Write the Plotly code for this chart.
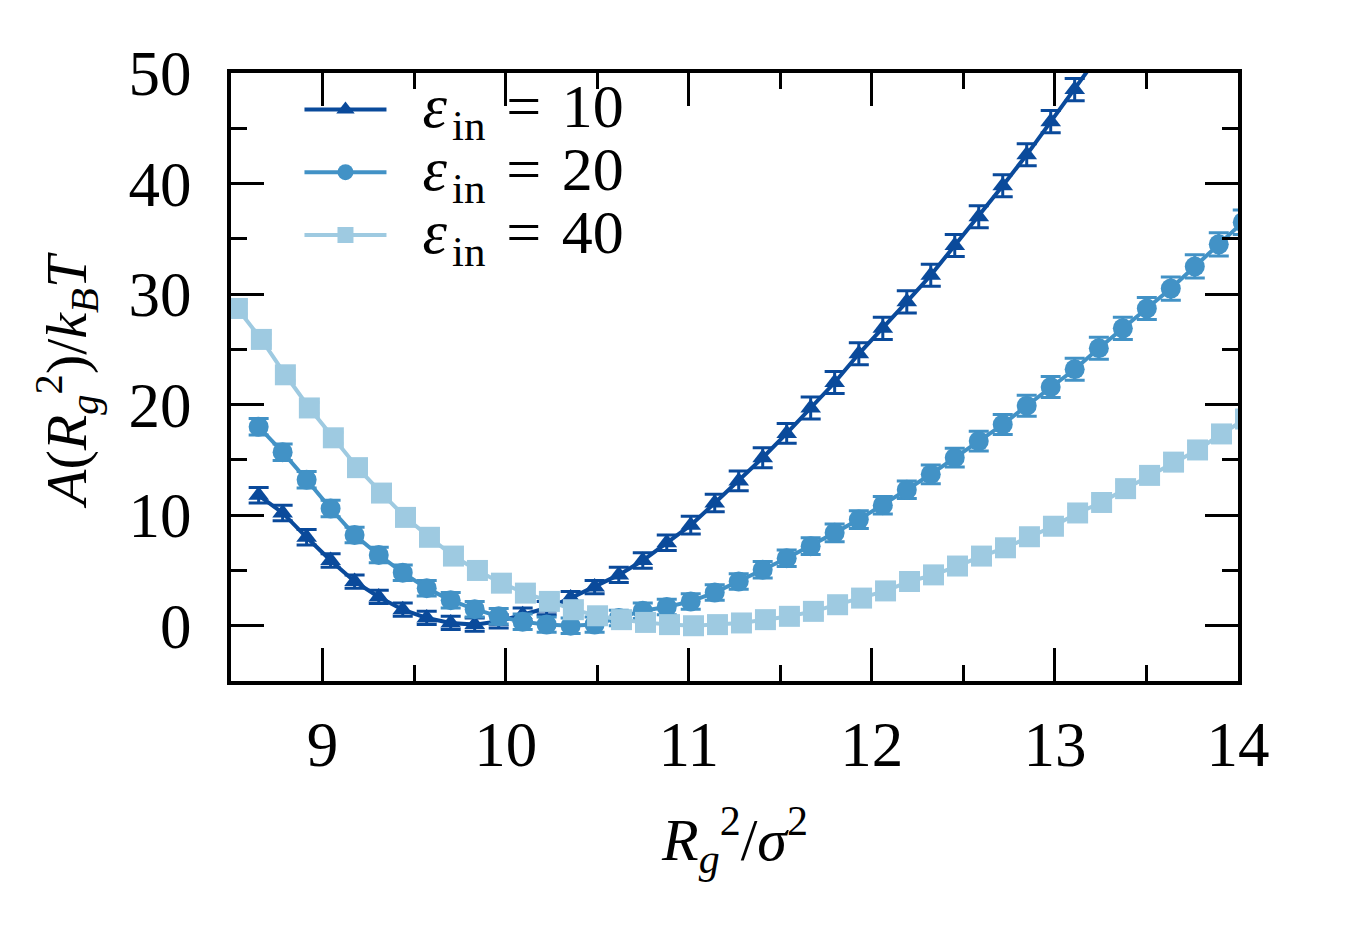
import plotly.graph_objects as go

# ---- data ----
x_tri = [8.651, 8.782, 8.913, 9.044, 9.175, 9.307, 9.438, 9.569, 9.700, 9.831,
         9.962, 10.093, 10.224, 10.355, 10.486, 10.618, 10.749, 10.880, 11.011, 11.142,
         11.273, 11.404, 11.535, 11.666, 11.797, 11.929, 12.060, 12.191, 12.322, 12.453,
         12.584, 12.715, 12.846, 12.977, 13.108, 13.240]
y_tri = [11.8, 10.2, 8.0, 5.9, 4.0, 2.6, 1.45, 0.7, 0.25, 0.1,
         0.4, 1.0, 1.6, 2.5, 3.5, 4.6, 5.9, 7.5, 9.1, 11.1,
         13.1, 15.2, 17.4, 19.7, 22.0, 24.6, 26.9, 29.3, 31.7, 34.4,
         37.0, 39.8, 42.6, 45.6, 48.5, 51.6]
e_tri = [0.7, 0.7, 0.7, 0.6, 0.6, 0.6, 0.6, 0.6, 0.6, 0.6,
         0.6, 0.6, 0.6, 0.6, 0.6, 0.7, 0.7, 0.7, 0.8, 0.8,
         0.9, 0.9, 0.9, 1.0, 1.0, 1.0, 1.0, 1.0, 1.0, 1.0,
         1.0, 1.0, 1.0, 1.0, 1.0, 1.0]

x_cir = [8.651, 8.782, 8.913, 9.044, 9.175, 9.307, 9.438, 9.569, 9.700, 9.831,
         9.962, 10.093, 10.224, 10.355, 10.486, 10.618, 10.749, 10.880, 11.011, 11.142,
         11.273, 11.404, 11.535, 11.666, 11.797, 11.929, 12.060, 12.191, 12.322, 12.453,
         12.584, 12.715, 12.846, 12.977, 13.108, 13.240, 13.371, 13.502, 13.633, 13.764,
         13.895, 14.026]
y_cir = [18.0, 15.7, 13.2, 10.6, 8.2, 6.4, 4.8, 3.4, 2.3, 1.5,
         0.85, 0.35, 0.1, 0.0, 0.1, 0.7, 1.35, 1.7, 2.2, 3.0,
         4.0, 5.06, 6.1, 7.2, 8.4, 9.6, 10.9, 12.3, 13.7, 15.2,
         16.7, 18.2, 19.9, 21.6, 23.2, 25.1, 26.9, 28.7, 30.5, 32.5,
         34.5, 36.5]
e_cir = [0.75, 0.75, 0.75, 0.75, 0.7, 0.7, 0.7, 0.7, 0.7, 0.7,
         0.7, 0.7, 0.7, 0.7, 0.7, 0.7, 0.7, 0.7, 0.7, 0.7,
         0.7, 0.75, 0.75, 0.75, 0.8, 0.8, 0.8, 0.8, 0.85, 0.85,
         0.9, 0.9, 0.95, 0.95, 1.0, 1.0, 1.0, 1.0, 1.05, 1.05,
         1.05, 1.1]

x_sq = [8.535, 8.666, 8.797, 8.928, 9.059, 9.191, 9.322, 9.453, 9.584, 9.715,
        9.846, 9.977, 10.108, 10.239, 10.370, 10.502, 10.633, 10.764, 10.895, 11.026,
        11.157, 11.288, 11.419, 11.550, 11.681, 11.813, 11.944, 12.075, 12.206, 12.337,
        12.468, 12.599, 12.730, 12.861, 12.992, 13.124, 13.255, 13.386, 13.517, 13.648,
        13.779, 13.910, 14.041]
y_sq = [28.7, 25.9, 22.7, 19.7, 17.0, 14.3, 12.0, 9.8, 8.0, 6.3,
        5.0, 3.85, 2.95, 2.2, 1.45, 0.9, 0.55, 0.3, 0.1, 0.0,
        0.1, 0.25, 0.55, 0.85, 1.3, 1.9, 2.5, 3.15, 4.0, 4.6,
        5.4, 6.3, 7.05, 8.05, 9.0, 10.2, 11.15, 12.4, 13.6, 14.8,
        15.9, 17.35, 18.7]
e_sq = [0.5, 0.5, 0.5, 0.5, 0.5, 0.5, 0.5, 0.5, 0.5, 0.5,
        0.5, 0.5, 0.5, 0.5, 0.5, 0.5, 0.5, 0.5, 0.5, 0.5,
        0.5, 0.5, 0.5, 0.5, 0.5, 0.5, 0.5, 0.5, 0.5, 0.5,
        0.5, 0.5, 0.5, 0.5, 0.5, 0.5, 0.5, 0.5, 0.5, 0.5,
        0.5, 0.5, 0.5]

eps_values = ["10", "20", "40"]
colors = ["#0a4a9b", "#4292c6", "#9ecae1"]
symbols = ["triangle-up", "circle", "square"]
x_ticks = [9, 10, 11, 12, 13, 14]
y_ticks = [0, 10, 20, 30, 40, 50]

FONT = "Liberation Serif"


def legend_label(v):
    return ("<span style='font-size:62px'>\u2002<i>ε</i>\u200a<sub><span style='font-size:43px'>in</span></sub>"
            " \u200a= \u200a" + v + "</span>")


fig = go.Figure()
series = [(x_tri, y_tri, e_tri, 18), (x_cir, y_cir, e_cir, 20), (x_sq, y_sq, e_sq, 21)]
for (xs, ys, es, ms), v, col, sym in zip(series, eps_values, colors, symbols):
    fig.add_trace(go.Scatter(
        x=xs, y=ys, mode="lines+markers", name=legend_label(v),
        line=dict(color=col, width=4),
        marker=dict(symbol=sym, size=ms, color=col, line=dict(width=0)),
        error_y=dict(type="data", array=es, visible=True, color=col, thickness=3, width=10),
    ))

axis_common = dict(
    showline=True, linewidth=4, linecolor="black", mirror="allticks",
    ticks="inside", ticklen=33, tickwidth=2.5, tickcolor="black",
    showgrid=False, zeroline=False,
    tickfont=dict(family=FONT, size=63, color="black"),
)

fig.update_layout(
    width=1350, height=944,
    margin=dict(l=231, r=112, t=73, b=263),
    plot_bgcolor="white", paper_bgcolor="white",
    showlegend=True,
    legend=dict(
        x=0.068, y=1.0, xanchor="left", yanchor="top",
        bgcolor="rgba(0,0,0,0)", borderwidth=0,
        font=dict(family=FONT, size=46, color="black"),
        itemwidth=82, tracegroupgap=0,
    ),
    xaxis=dict(range=[8.5, 14], tickvals=x_ticks, ticklabelstandoff=5,
               minor=dict(dtick=0.5, ticklen=16, tickwidth=2.5, tickcolor="black", ticks="inside"),
               **axis_common),
    yaxis=dict(range=[-5, 50], tickvals=y_ticks, ticklabelstandoff=23,
               minor=dict(dtick=5, ticklen=16, tickwidth=2.5, tickcolor="black", ticks="inside"),
               **axis_common),
    annotations=[
        dict(text="<i>R</i><sub><i>g</i></sub><sup>2</sup>/<i>σ</i><sup>2</sup>",
             xref="paper", yref="paper", x=0.5, y=-0.262, xanchor="center", yanchor="middle",
             showarrow=False, font=dict(family=FONT, size=60, color="black")),
        dict(text="<i>A</i>(<i>R</i><sub><i>g</i></sub><sup>2</sup>)/<i>k</i><sub><i>B</i></sub><i>T</i>",
             xref="paper", yref="paper", x=-0.163, y=0.495, xanchor="center", yanchor="middle",
             textangle=-90, showarrow=False, font=dict(family=FONT, size=58, color="black")),
    ],
)

fig.write_html("out.html")
